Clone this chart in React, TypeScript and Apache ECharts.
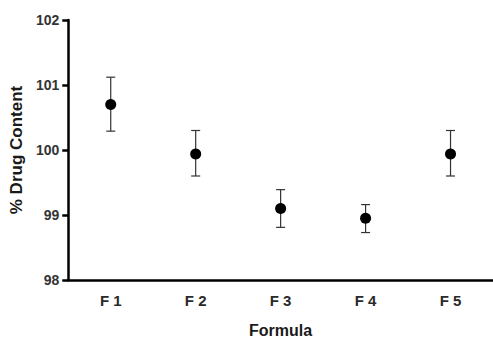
import React, { useEffect, useRef } from "react";
import * as echarts from "echarts";

const categories = ["F 1", "F 2", "F 3", "F 4", "F 5"];
const means = [100.7, 99.94, 99.1, 98.95, 99.94];
const lowerValues = [100.29, 99.6, 98.81, 98.73, 99.6];
const upperValues = [101.12, 100.3, 99.39, 99.16, 100.3];
const yTicks = [98, 99, 100, 101, 102];

export default function App() {
  const ref = useRef<HTMLDivElement>(null);
  useEffect(() => {
    if (!ref.current) return;
    const chart = echarts.init(ref.current, null, { renderer: "svg" });
    const font = "Liberation Sans, Arial, sans-serif";
    const errData = categories.map((c, i) => [i, lowerValues[i], upperValues[i]]);
    chart.setOption({
      animation: false,
      backgroundColor: "#fff",
      grid: { left: 68, right: 0, top: 20, bottom: 61, containLabel: false },
      xAxis: {
        type: "category",
        data: categories,
        boundaryGap: true,
        name: "Formula",
        nameLocation: "middle",
        nameGap: 42,
        nameTextStyle: { fontFamily: font, fontSize: 16, fontWeight: "bold", color: "#1a1a1a" },
        axisLine: { lineStyle: { color: "#000", width: 2.5 } },
        axisTick: { alignWithLabel: true, length: 6, lineStyle: { color: "#000", width: 2.5 } },
        axisLabel: { fontFamily: font, fontSize: 15, fontWeight: "bold", color: "#2a2a2a", margin: 13 },
        splitLine: { show: false },
      },
      yAxis: {
        type: "value",
        min: yTicks[0],
        max: yTicks[yTicks.length - 1],
        interval: 1,
        name: "% Drug Content",
        nameLocation: "middle",
        nameGap: 34,
        nameTextStyle: { fontFamily: font, fontSize: 17, fontWeight: "bold", color: "#1a1a1a" },
        axisLine: { show: true, lineStyle: { color: "#000", width: 2.5 } },
        axisTick: { show: true, length: 6, lineStyle: { color: "#000", width: 2.5 } },
        axisLabel: { fontFamily: font, fontSize: 14, fontWeight: "bold", color: "#333", margin: 9 },
        splitLine: { show: false },
      },
      series: [
        {
          type: "custom",
          data: errData,
          z: 1,
          renderItem: (params: any, api: any) => {
            const x = api.value(0);
            const lo = api.coord([x, api.value(1)]);
            const hi = api.coord([x, api.value(2)]);
            const hw = 4.5;
            const style = { stroke: "#333", lineWidth: 1.2 };
            return {
              type: "group",
              children: [
                { type: "line", shape: { x1: lo[0], y1: lo[1], x2: hi[0], y2: hi[1] }, style },
                { type: "line", shape: { x1: lo[0] - hw, y1: lo[1], x2: lo[0] + hw, y2: lo[1] }, style },
                { type: "line", shape: { x1: hi[0] - hw, y1: hi[1], x2: hi[0] + hw, y2: hi[1] }, style },
              ],
            };
          },
        },
        {
          type: "scatter",
          data: means,
          symbol: "circle",
          symbolSize: 11,
          itemStyle: { color: "#000", opacity: 1 },
          z: 3,
        },
      ],
    });
    return () => chart.dispose();
  }, []);
  return (
    <div
      ref={ref}
      style={{ position: "absolute", left: 0, top: 0, width: 493, height: 343 }}
    />
  );
}
